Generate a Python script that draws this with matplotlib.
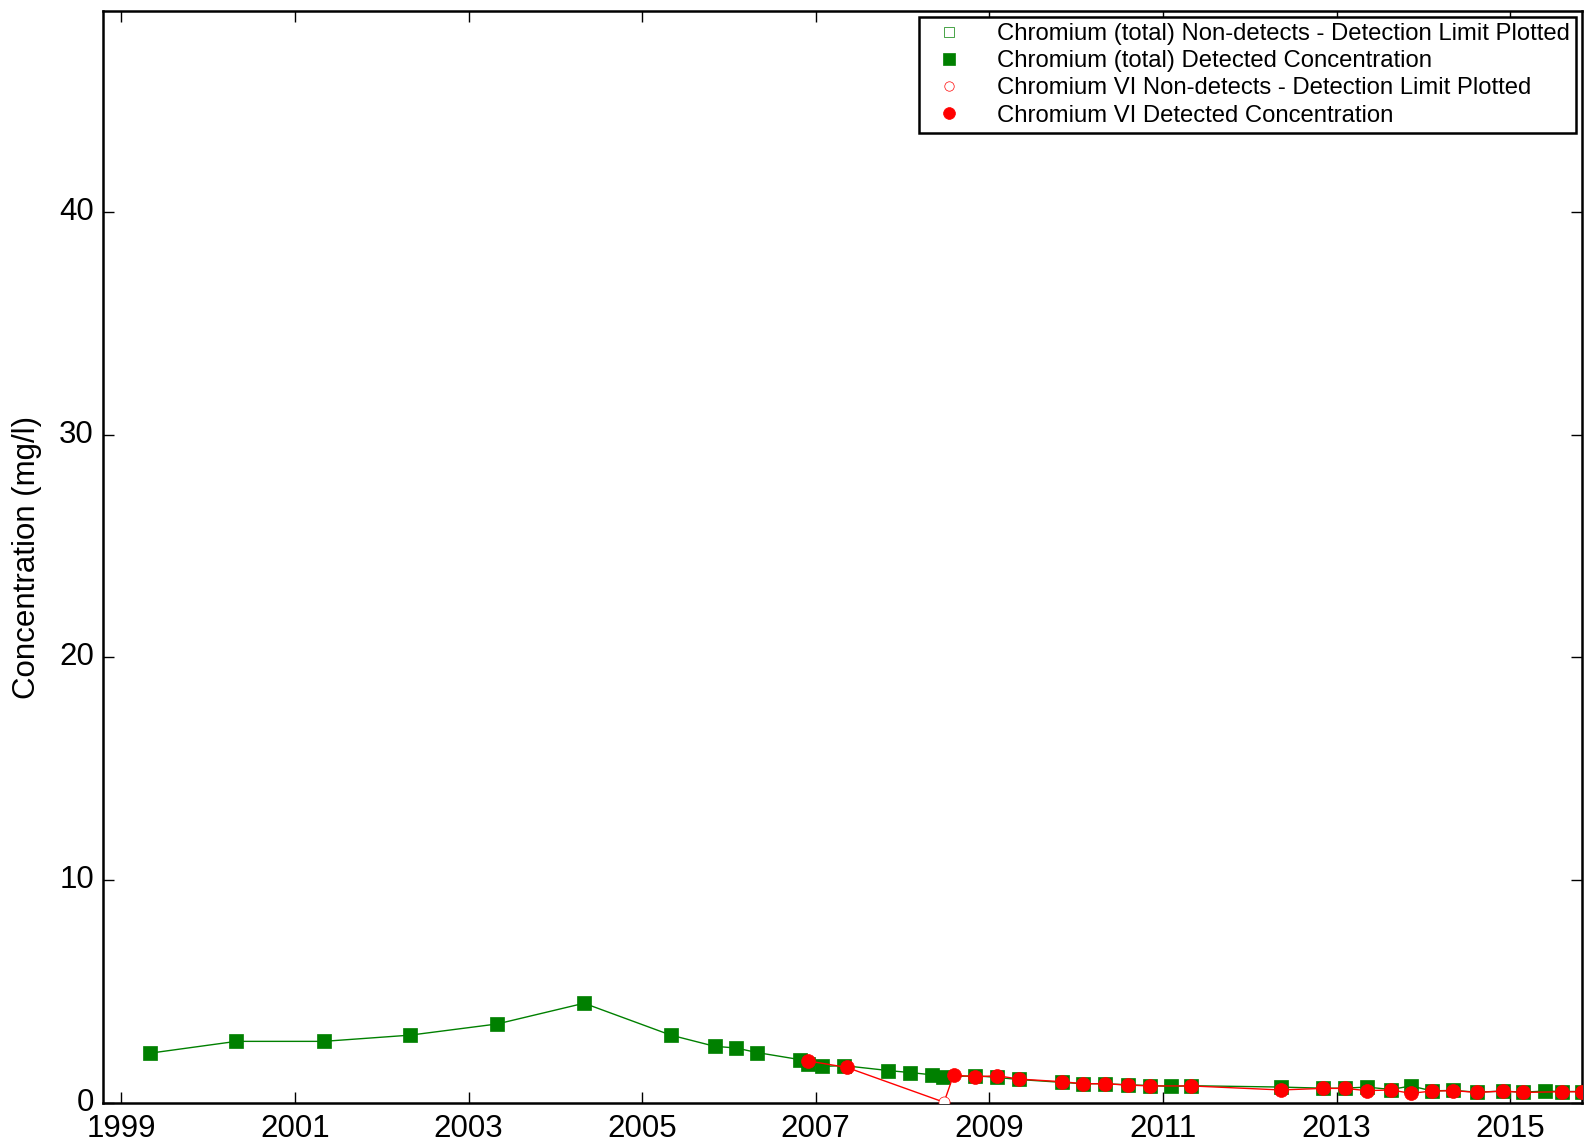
import numpy as np
import pandas as pd
import matplotlib
matplotlib.use("Agg")
from matplotlib import pyplot as plt

# Chromium (total) detected
cr_dates = ["1999-05-01", "2000-04-28", "2001-05-01", "2002-05-01", "2003-05-01",
            "2004-05-01", "2005-05-01", "2005-11-01", "2006-02-01", "2006-04-28",
            "2006-10-27", "2006-12-01", "2007-01-27", "2007-05-01", "2007-11-03",
            "2008-02-03", "2008-05-04", "2008-06-20", "2008-11-03", "2009-02-03",
            "2009-05-04", "2009-11-03", "2010-01-30", "2010-05-01", "2010-08-07",
            "2010-11-06", "2011-02-06", "2011-05-01", "2012-05-12", "2012-11-03",
            "2013-02-06", "2013-05-08", "2013-08-18", "2013-11-10", "2014-02-06",
            "2014-05-08", "2014-08-15", "2014-12-01", "2015-02-24", "2015-05-27",
            "2015-08-08", "2015-10-30"]
cr_vals = [2.25, 2.78, 2.78, 3.06, 3.56,
           4.49, 3.06, 2.56, 2.48, 2.28,
           1.96, 1.76, 1.66, 1.69, 1.47,
           1.38, 1.28, 1.18, 1.24, 1.16,
           1.07, 0.94, 0.88, 0.88, 0.83,
           0.80, 0.76, 0.79, 0.73, 0.68,
           0.68, 0.73, 0.62, 0.78, 0.56,
           0.58, 0.50, 0.55, 0.50, 0.55,
           0.53, 0.53]

# Chromium VI (all samples, line connects them)
cr6_dates = ["2006-12-01", "2007-05-12", "2008-06-24", "2008-08-03", "2008-11-03",
             "2009-02-03", "2009-05-04", "2009-11-03", "2010-01-30", "2010-05-01",
             "2010-08-07", "2010-11-06", "2011-05-01", "2012-05-12", "2012-11-03",
             "2013-02-06", "2013-05-08", "2013-08-18", "2013-11-10", "2014-02-06",
             "2014-05-08", "2014-08-15", "2014-12-01", "2015-02-24", "2015-08-08",
             "2015-10-30"]
cr6_vals = [1.90, 1.61, 0.05, 1.27, 1.19,
            1.24, 1.09, 0.97, 0.88, 0.88,
            0.82, 0.78, 0.78, 0.60, 0.67,
            0.67, 0.57, 0.60, 0.45, 0.55,
            0.57, 0.49, 0.55, 0.49, 0.52,
            0.52]
cr6_nondetect = [False, False, True, False, False,
                 False, False, False, False, False,
                 False, False, False, False, False,
                 False, False, False, False, False,
                 False, False, False, False, False,
                 False]

tick_years = ["1999", "2001", "2003", "2005", "2007", "2009", "2011", "2013", "2015"]

plt.style.use("classic")
plt.rcParams["font.family"] = ["Liberation Sans", "DejaVu Sans"]

cr_x = pd.to_datetime(cr_dates)
cr6_x = pd.to_datetime(cr6_dates)
cr6_vals = np.array(cr6_vals)
nd = np.array(cr6_nondetect)

fig = plt.figure(figsize=(15.91, 11.43), dpi=100)
ax = fig.add_axes([0.0647, 0.0347, 0.9295, 0.9557])

ax.plot(cr_x, cr_vals, "-", color="green", lw=1, zorder=2)
ax.plot([], [], "s", mfc="none", mec="green", ms=8,
        label="Chromium (total) Non-detects - Detection Limit Plotted")
ax.plot(cr_x, cr_vals, "s", color="green", mec="green", ms=9.5, zorder=3,
        label="Chromium (total) Detected Concentration")

ax.plot(cr6_x, cr6_vals, "-", color="red", lw=1, zorder=4)
ax.plot(cr6_x[nd], cr6_vals[nd], "o", mfc="white", mec="red", ms=8, zorder=5,
        label="Chromium VI Non-detects - Detection Limit Plotted")
ax.plot(cr6_x[~nd], cr6_vals[~nd], "o", color="red", mec="red", ms=10, zorder=5,
        label="Chromium VI Detected Concentration")

ax.set_ylim(0, 49)
ax.set_yticks([0, 10, 20, 30, 40])
ax.set_xlim(pd.Timestamp("1998-10-15"), cr_x[-1])
ax.set_xticks(pd.to_datetime([y + "-01-01" for y in tick_years]))
ax.set_xticklabels(tick_years)
ax.tick_params(labelsize=22.5, length=8, width=1, direction="in")
ax.tick_params(axis="x", pad=8)
ax.tick_params(axis="y", pad=6.5)
ax.tick_params(which="minor", length=0)
for s in ax.spines.values():
    s.set_linewidth(1.8)
ax.set_ylabel("Concentration (mg/l)", fontsize=22.5, labelpad=12)

leg = ax.legend(loc="upper right", numpoints=1, fontsize=17.2, borderaxespad=0.25,
                handletextpad=1.0, labelspacing=0.22, borderpad=0.25, markerscale=0.85)
leg.get_frame().set_linewidth(1.8)
leg.get_frame().set_edgecolor("black")

fig.savefig("out.png", dpi=100)
